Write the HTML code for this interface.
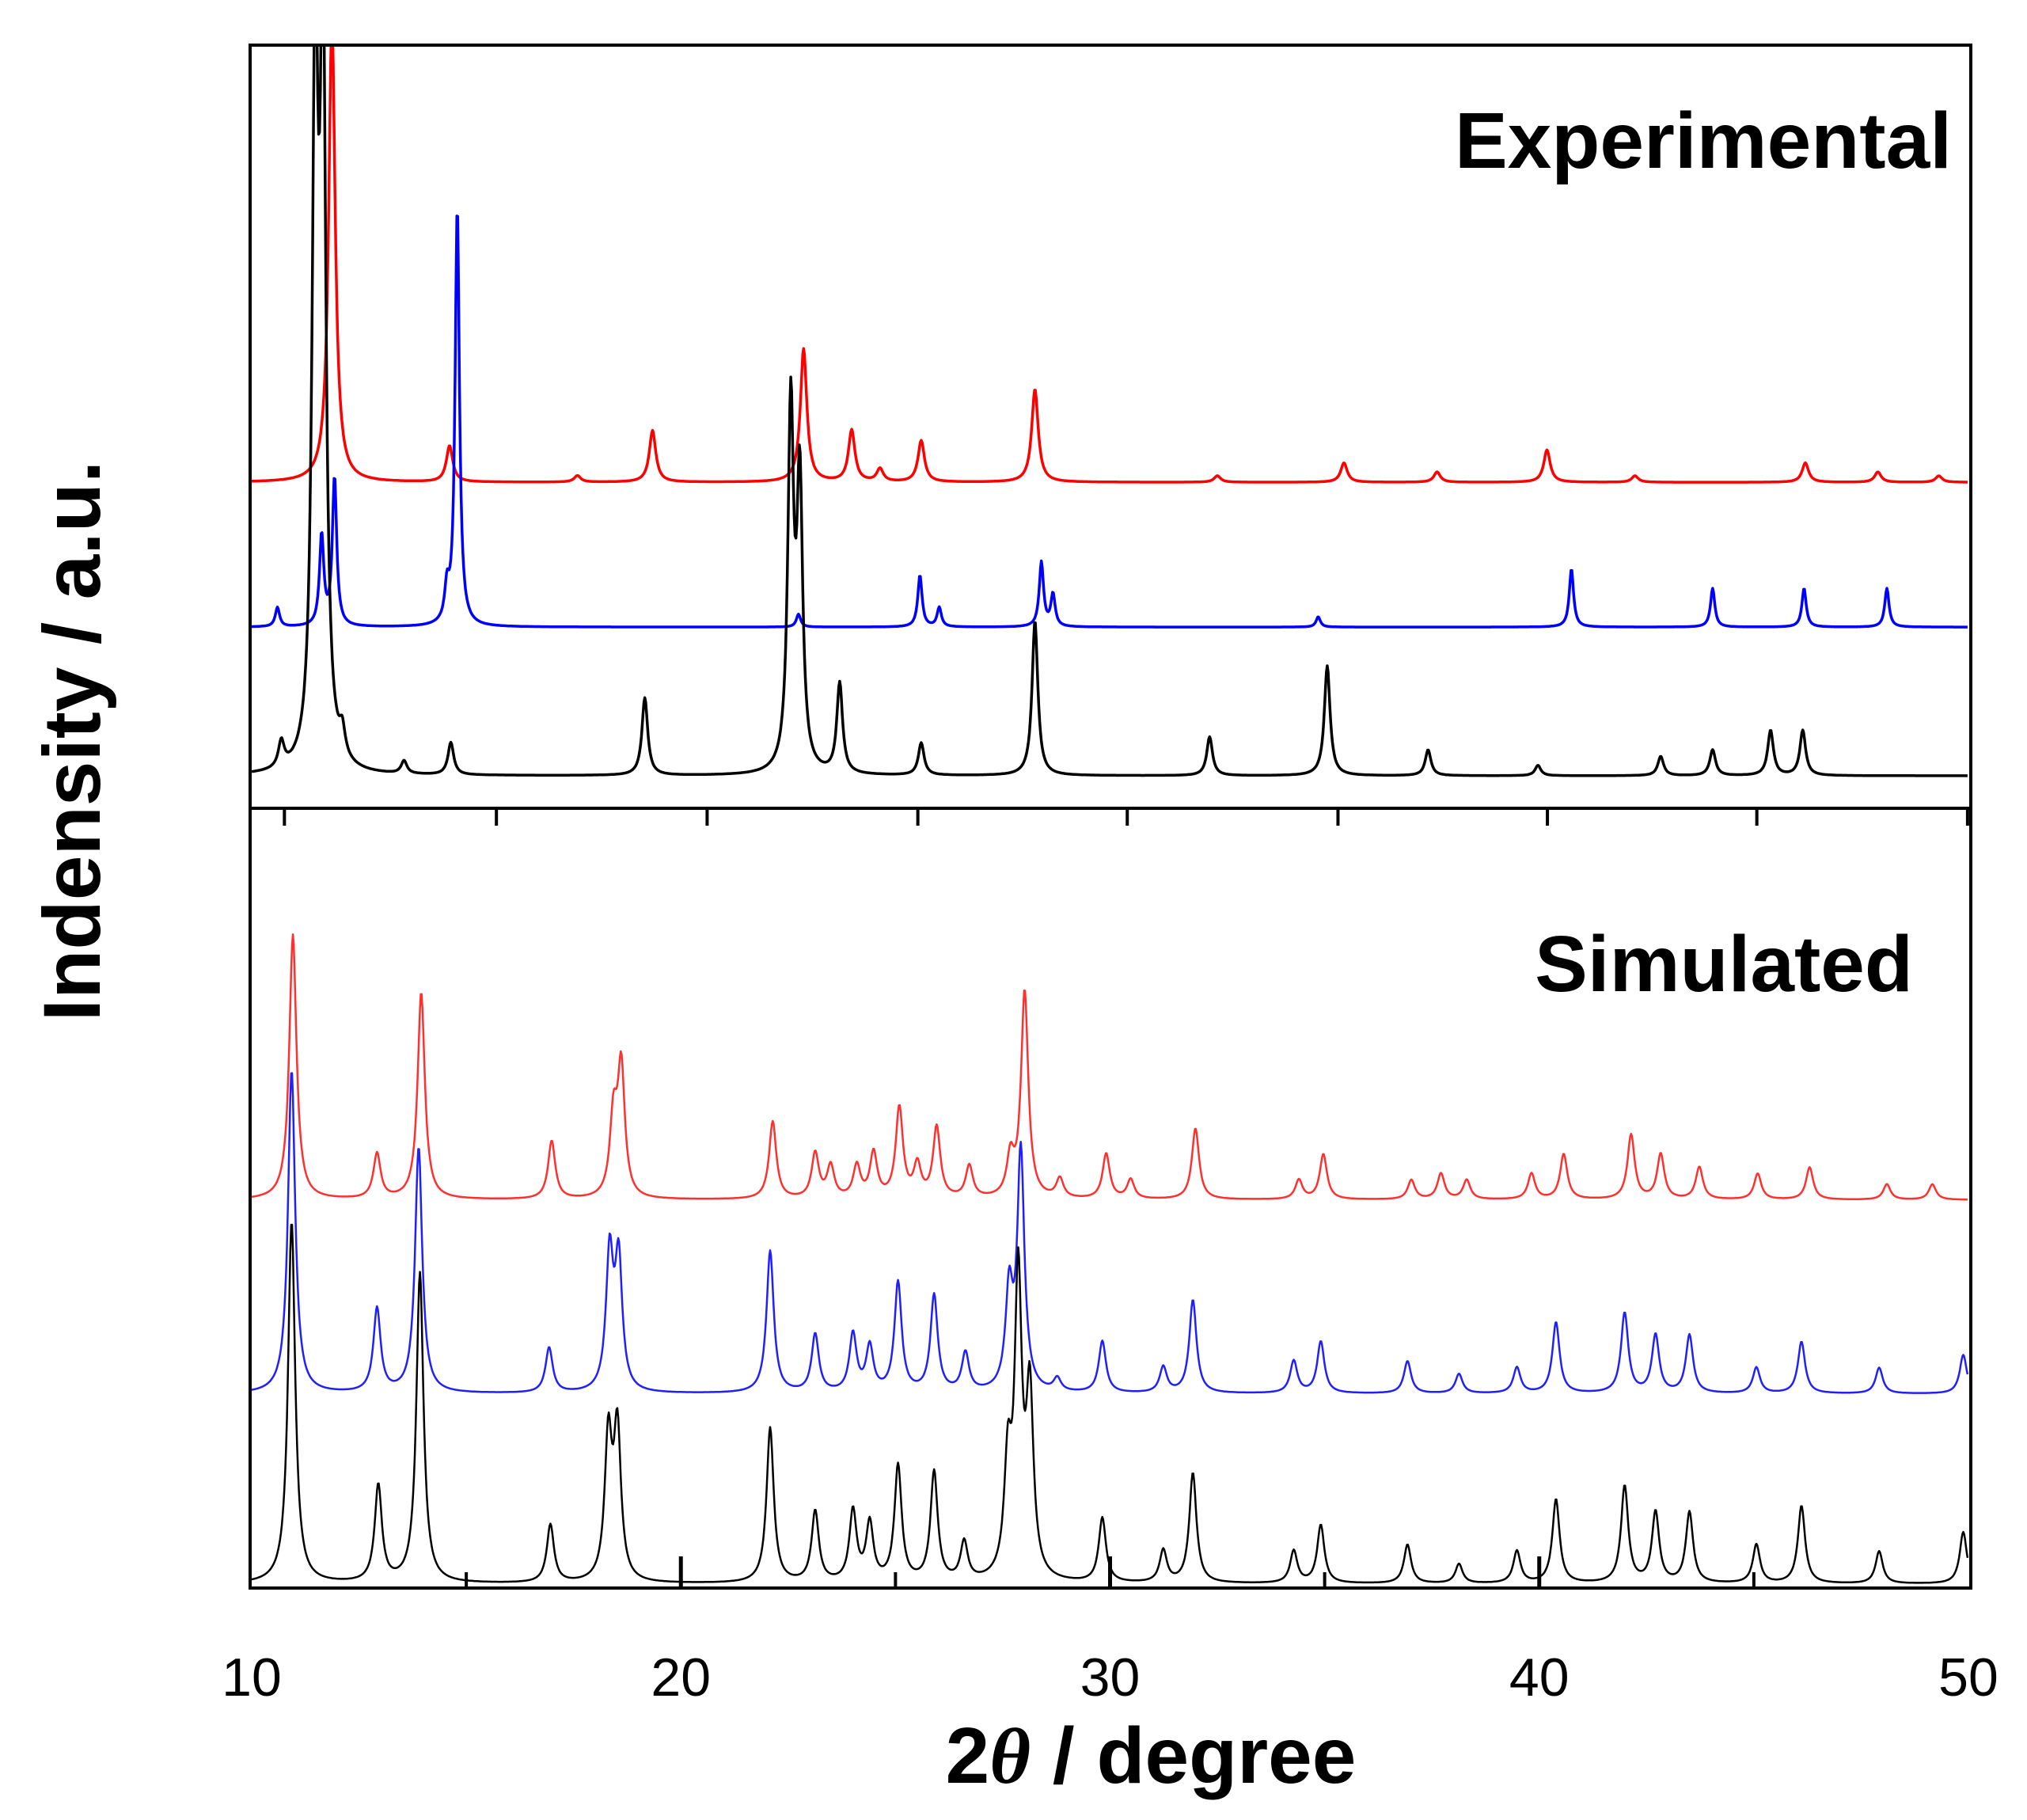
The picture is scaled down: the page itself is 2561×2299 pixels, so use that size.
<!DOCTYPE html>
<html><head><meta charset="utf-8"><style>
html,body{margin:0;padding:0;background:#fff;}
svg{display:block;}
text{font-family:"Liberation Sans",Arial,sans-serif;}
</style></head><body>
<svg id="chart" width="2561" height="2299" viewBox="0 0 2561 2299" xmlns="http://www.w3.org/2000/svg">
<defs>
<clipPath id="clipTop"><rect x="317" y="59" width="2172" height="961"/></clipPath>
<clipPath id="clipBot"><rect x="317" y="1023" width="2172" height="982"/></clipPath>
</defs>
<g id="series"></g>
<rect x="316" y="57" width="2174" height="964" fill="none" stroke="#000" stroke-width="4"/>
<rect x="316" y="1021" width="2174" height="985" fill="none" stroke="#000" stroke-width="4"/>
<g id="ticks"></g>
<text x="2466" y="212" font-size="100" font-weight="bold" text-anchor="end">Experimental</text>
<text x="2417" y="1252" font-size="100" font-weight="bold" text-anchor="end">Simulated</text>
<text x="1454" y="2252" font-size="100" font-weight="bold" text-anchor="middle">2<tspan font-family="Liberation Serif" font-style="italic">θ</tspan> / degree</text>
<text transform="translate(126,936) rotate(-90)" font-size="102" font-weight="bold" text-anchor="middle">Indensity / a.u.</text>
</svg>
<script>
const xTicks=[10,20,30,40,50];
const expRedPos=[11.87,14.61,17.59,19.34,22.86,23.98,24.64,25.6,28.25,32.5,35.45,37.62,40.18,42.23,46.2,47.89,49.31];
const expRedH=[360,28,5,40,103,40,10,32,72,5,15,8,25,5,15,8,5];
const expBluePos=[10.6,11.63,11.93,14.55,14.79,22.74,25.57,26.02,28.4,28.67,34.85,40.75,44.04,46.17,48.1];
const expBlueH=[15,70,115,25,325,10,40,15,50,25,8,45,30,30,30];
const expBlackPos=[10.69,11.48,11.66,12.11,13.55,14.64,19.16,22.56,22.77,23.7,25.6,28.25,32.32,35.06,37.41,39.97,42.83,44.04,45.39,46.14];
const expBlackH=[20,550,565,20,10,25,60,280,220,70,25,120,30,85,20,8,15,20,35,35];
const simRedPos=[10.96,12.92,13.95,16.99,18.43,18.61,22.14,23.13,23.49,24.1,24.49,25.09,25.51,25.96,26.72,27.68,28.01,28.83,29.91,30.48,31.99,34.4,34.97,37.02,37.71,38.31,39.82,40.57,42.14,42.83,43.73,45.09,46.3,48.1,49.16];
const simRedH=[205,35,160,45,60,100,60,35,25,25,35,70,25,55,25,30,160,15,35,15,55,15,35,15,20,15,20,35,50,35,25,20,25,12,12];
const simBluePos=[10.93,12.92,13.89,16.93,18.34,18.55,22.08,23.13,24.01,24.4,25.06,25.9,26.63,27.65,27.92,28.77,29.82,31.24,31.93,34.28,34.91,36.93,38.13,39.48,40.39,41.99,42.71,43.5,45.06,46.11,47.92,49.88];
const simBlueH=[250,65,190,35,105,100,110,45,45,35,85,75,30,75,185,10,40,20,72,25,40,25,15,20,55,62,45,45,20,40,20,30];
const simBlackPos=[10.93,12.95,13.92,16.96,18.31,18.52,22.08,23.13,24.01,24.4,25.06,25.9,26.6,27.62,27.86,28.13,29.82,31.24,31.93,34.28,34.91,36.93,38.13,39.48,40.39,41.99,42.71,43.5,45.06,46.11,47.92,49.88];
const simBlackH=[280,75,240,45,110,115,120,55,55,45,90,85,30,85,230,140,50,25,85,25,45,30,15,25,65,75,55,55,30,60,25,40];
const baselines=[373,485,600,928,1078,1225];

const S=1.6333;
const X0=318, X1=2487, D0=10, D1=50;
function xs(d){return X0+(d-D0)*(X1-X0)/(D1-D0);}
function ys(v){return v*S;}
const NS='http://www.w3.org/2000/svg';
const g=document.getElementById('series');
function makePath(pos,h,base,w,color,sw,clip,name){
  let pts=[];
  for(let d=D0;d<=D1;d+=0.02){
    let v=0;
    for(let i=0;i<pos.length;i++){const t=(d-pos[i])/w;v+=h[i]/(1+t*t);}
    pts.push(xs(d).toFixed(1)+','+ys(base-v).toFixed(1));
  }
  const p=document.createElementNS(NS,'path');
  p.setAttribute('d','M'+pts.join('L'));
  p.setAttribute('fill','none');p.setAttribute('stroke',color);
  p.setAttribute('stroke-width',sw);p.setAttribute('clip-path','url(#'+clip+')');
  p.setAttribute('stroke-linejoin','round');
  
  
  g.appendChild(p);
}
makePath(expRedPos,expRedH,baselines[0],0.09,'#ff0000',3.5,'clipTop','exp-red-pattern');
makePath(expBluePos,expBlueH,baselines[1],0.06,'#0000ff',3.5,'clipTop','exp-blue-pattern');
makePath(expBlackPos,expBlackH,baselines[2],0.08,'#000000',3.5,'clipTop','exp-black-pattern');
makePath(simRedPos,simRedH,baselines[3],0.1,'#ff3030',2.5,'clipBot','sim-red-pattern');
makePath(simBluePos,simBlueH,baselines[4],0.1,'#2020ff',2.5,'clipBot','sim-blue-pattern');
makePath(simBlackPos,simBlackH,baselines[5],0.1,'#000000',2.5,'clipBot','sim-black-pattern');

const tg=document.getElementById('ticks');
function line(x1,y1,x2,y2,w,name){
  const l=document.createElementNS(NS,'line');
  l.setAttribute('x1',x1);l.setAttribute('y1',y1);l.setAttribute('x2',x2);l.setAttribute('y2',y2);
  l.setAttribute('stroke','#000');l.setAttribute('stroke-width',w);
  
  
  tg.appendChild(l);
}
[220,384,547,710,872,1035,1197,1359,1522].forEach(function(x){line(x*S,1021,x*S,1043,4,'divider-tick');});
[15,25,35,45].forEach(function(d){line(xs(d),2006,xs(d),1986,4,'x-minor-tick');});
[20,30,40].forEach(function(d){line(xs(d),2006,xs(d),1966,5,'x-major-tick');});
xTicks.forEach(function(d){
  const t=document.createElementNS(NS,'text');
  t.setAttribute('x',xs(d));t.setAttribute('y',2142);
  t.setAttribute('font-size','68');t.setAttribute('text-anchor','middle');
  t.textContent=d;
  
  
  tg.appendChild(t);
});
</script>
</body></html>
